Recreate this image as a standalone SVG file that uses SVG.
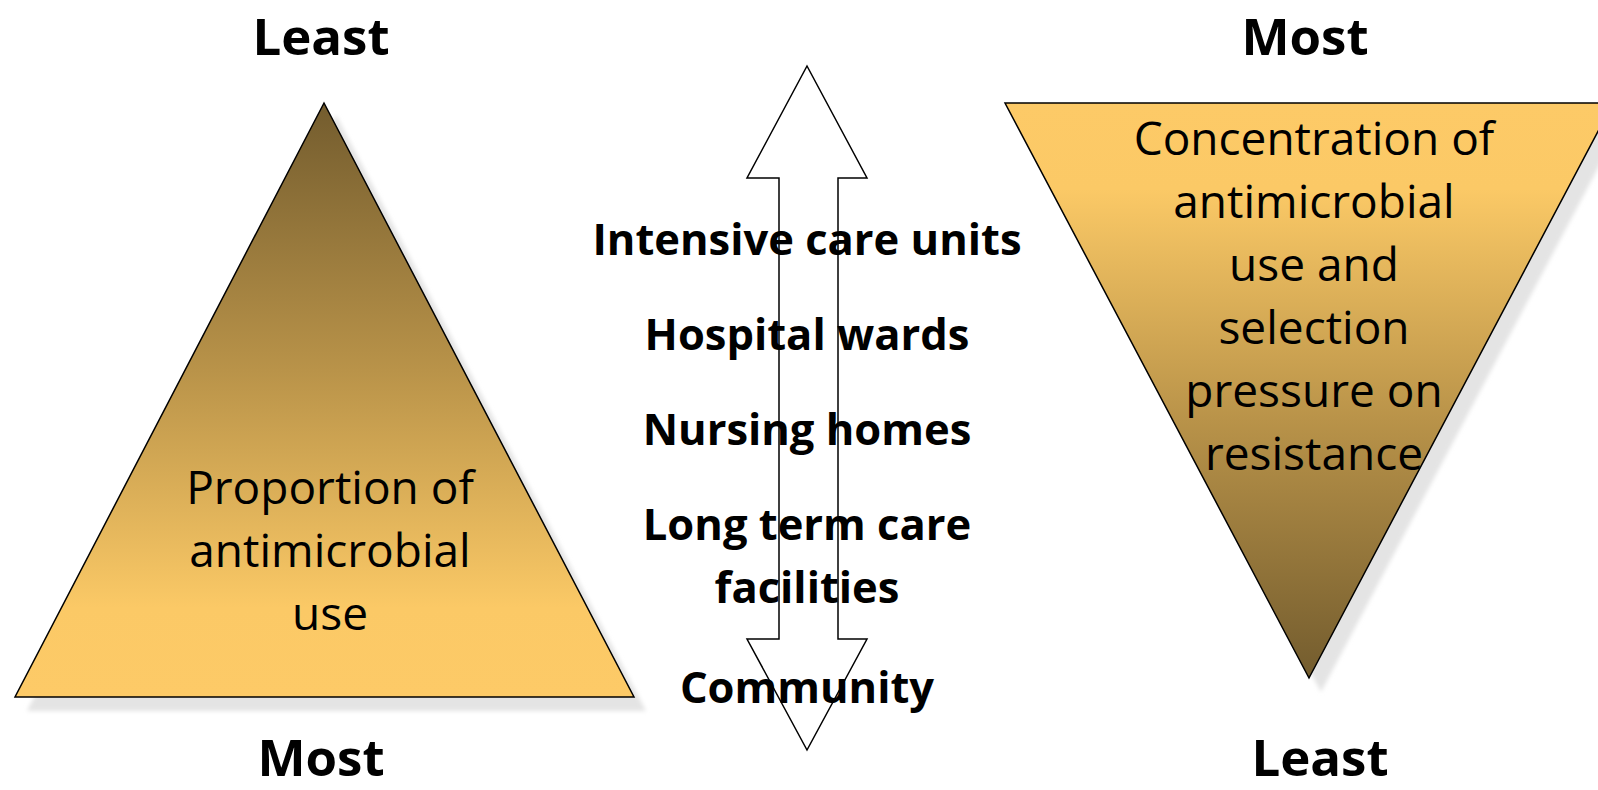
<svg xmlns="http://www.w3.org/2000/svg" width="1598" height="790" viewBox="0 0 1598 790">
<defs>
<linearGradient id="gUp" x1="0" y1="0" x2="0" y2="1">
<stop offset="0" stop-color="#735c2e"/>
<stop offset="0.45" stop-color="#b99349"/>
<stop offset="0.85" stop-color="#fbc966"/>
<stop offset="1" stop-color="#fdca67"/>
</linearGradient>
<linearGradient id="gDown" x1="0" y1="0" x2="0" y2="1">
<stop offset="0" stop-color="#fdca67"/>
<stop offset="0.15" stop-color="#fbc966"/>
<stop offset="0.55" stop-color="#b99349"/>
<stop offset="1" stop-color="#735c2e"/>
</linearGradient>
<filter id="blur" x="-10%" y="-10%" width="120%" height="120%">
<feGaussianBlur stdDeviation="2"/>
</filter>
</defs>
<style>
.bold{font-family:"Open Sans","DejaVu Sans",sans-serif;font-weight:bold;fill:#000;text-anchor:middle}
.big{font-size:51px}
.mid{font-size:43.5px}
.reg{font-family:"Open Sans","DejaVu Sans",sans-serif;font-size:46px;fill:#000;text-anchor:middle}
.tri{stroke:#000;stroke-width:1.5}
.shadow{fill:#e4e4e4;filter:url(#blur)}
.arrow{fill:#fff;stroke:#000;stroke-width:1.5}
</style>
<rect width="1598" height="790" fill="#fff"/>

<g id="left-pyramid">
<polygon class="shadow" points="336,115 646,711 27,711"/>
<polygon class="tri" fill="url(#gUp)" points="324,103 634,697 15,697"/>
<text class="reg"><tspan x="330" y="504">Proportion of</tspan><tspan x="330" y="567">antimicrobial</tspan><tspan x="330" y="630">use</tspan></text>
</g>

<g id="right-pyramid">
<polygon class="shadow" points="1017,117 1625,117 1321,692"/>
<polygon class="tri" fill="url(#gDown)" points="1005,103 1613,103 1309,678"/>
<text class="reg"><tspan x="1314" y="155">Concentration of</tspan><tspan x="1314" y="218">antimicrobial</tspan><tspan x="1314" y="281">use and</tspan><tspan x="1314" y="344">selection</tspan><tspan x="1314" y="407">pressure on</tspan><tspan x="1314" y="470">resistance</tspan></text>
</g>

<g id="connectors">
<polygon class="arrow" points="807,66 867,178 838,178 838,639 867,639 807,750 747,639 779,639 779,178 747,178"/>
</g>

<g id="labels-left">
<text class="bold big" x="321" y="55">Least</text>
<text class="bold big" x="321" y="776">Most</text>
</g>
<g id="labels-right">
<text class="bold big" x="1305" y="55">Most</text>
<text class="bold big" x="1320" y="776">Least</text>
</g>

<g id="settings">
<text class="bold mid" x="807" y="255">Intensive care units</text>
<text class="bold mid" x="807" y="350">Hospital wards</text>
<text class="bold mid" x="807" y="445">Nursing homes</text>
<text class="bold mid" x="807" y="540">Long term care</text>
<text class="bold mid" x="807" y="603">facilities</text>
<text class="bold mid" x="807" y="703">Community</text>
</g>
</svg>
